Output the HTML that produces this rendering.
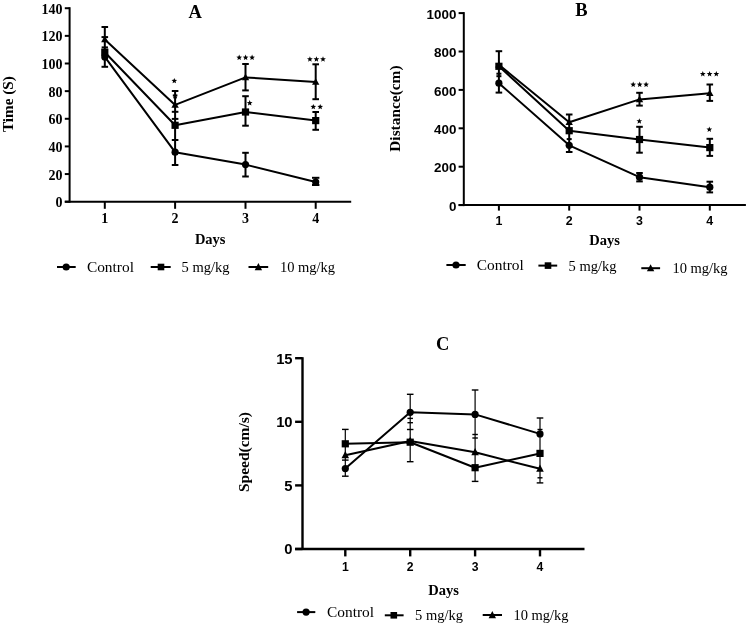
<!DOCTYPE html>
<html><head><meta charset="utf-8"><title>Figure</title>
<style>
html,body{margin:0;padding:0;background:#fff;}
body{width:748px;height:627px;overflow:hidden;}
svg{display:block;will-change:transform;}
</style></head>
<body>
<svg width="748" height="627" viewBox="0 0 748 627">
<rect x="0" y="0" width="748" height="627" fill="#fff"/>
<line x1="69.6" y1="7.22" x2="69.6" y2="202.7" stroke="#000" stroke-width="2"/>
<line x1="64.8" y1="201.7" x2="351.2" y2="201.7" stroke="#000" stroke-width="2"/>
<line x1="64.8" y1="201.7" x2="69.6" y2="201.7" stroke="#000" stroke-width="2"/>
<text x="62.4" y="207.3" font-family='"Liberation Serif", serif' font-weight="bold" font-size="14" text-anchor="end">0</text>
<line x1="64.8" y1="174.06" x2="69.6" y2="174.06" stroke="#000" stroke-width="2"/>
<text x="62.4" y="179.66" font-family='"Liberation Serif", serif' font-weight="bold" font-size="14" text-anchor="end">20</text>
<line x1="64.8" y1="146.42" x2="69.6" y2="146.42" stroke="#000" stroke-width="2"/>
<text x="62.4" y="152.02" font-family='"Liberation Serif", serif' font-weight="bold" font-size="14" text-anchor="end">40</text>
<line x1="64.8" y1="118.78" x2="69.6" y2="118.78" stroke="#000" stroke-width="2"/>
<text x="62.4" y="124.38" font-family='"Liberation Serif", serif' font-weight="bold" font-size="14" text-anchor="end">60</text>
<line x1="64.8" y1="91.14" x2="69.6" y2="91.14" stroke="#000" stroke-width="2"/>
<text x="62.4" y="96.74" font-family='"Liberation Serif", serif' font-weight="bold" font-size="14" text-anchor="end">80</text>
<line x1="64.8" y1="63.5" x2="69.6" y2="63.5" stroke="#000" stroke-width="2"/>
<text x="62.4" y="69.1" font-family='"Liberation Serif", serif' font-weight="bold" font-size="14" text-anchor="end">100</text>
<line x1="64.8" y1="35.86" x2="69.6" y2="35.86" stroke="#000" stroke-width="2"/>
<text x="62.4" y="41.46" font-family='"Liberation Serif", serif' font-weight="bold" font-size="14" text-anchor="end">120</text>
<line x1="64.8" y1="8.22" x2="69.6" y2="8.22" stroke="#000" stroke-width="2"/>
<text x="62.4" y="13.82" font-family='"Liberation Serif", serif' font-weight="bold" font-size="14" text-anchor="end">140</text>
<line x1="104.8" y1="201.7" x2="104.8" y2="208.8" stroke="#000" stroke-width="2"/>
<text x="104.8" y="222.6" font-family='"Liberation Serif", serif' font-weight="bold" font-size="14" text-anchor="middle">1</text>
<line x1="175.1" y1="201.7" x2="175.1" y2="208.8" stroke="#000" stroke-width="2"/>
<text x="175.1" y="222.6" font-family='"Liberation Serif", serif' font-weight="bold" font-size="14" text-anchor="middle">2</text>
<line x1="245.5" y1="201.7" x2="245.5" y2="208.8" stroke="#000" stroke-width="2"/>
<text x="245.5" y="222.6" font-family='"Liberation Serif", serif' font-weight="bold" font-size="14" text-anchor="middle">3</text>
<line x1="315.7" y1="201.7" x2="315.7" y2="208.8" stroke="#000" stroke-width="2"/>
<text x="315.7" y="222.6" font-family='"Liberation Serif", serif' font-weight="bold" font-size="14" text-anchor="middle">4</text>
<text x="195.1" y="17.6" font-family='"Liberation Serif", serif' font-weight="bold" font-size="18.5" text-anchor="middle">A</text>
<text x="13.3" y="104.1" font-family='"Liberation Serif", serif' font-weight="bold" font-size="15.2" text-anchor="middle" transform="rotate(-90 13.3 104.1)">Time (S)</text>
<text x="210.2" y="243.7" font-family='"Liberation Serif", serif' font-weight="bold" font-size="14.5" text-anchor="middle">Days</text>
<line x1="104.8" y1="27.0" x2="104.8" y2="66.8" stroke="#000" stroke-width="2"/>
<line x1="101.5" y1="27.0" x2="108.1" y2="27.0" stroke="#000" stroke-width="2"/>
<line x1="101.5" y1="37.1" x2="108.1" y2="37.1" stroke="#000" stroke-width="2"/>
<line x1="101.65" y1="47.4" x2="107.95" y2="47.4" stroke="#000" stroke-width="2"/>
<line x1="101.5" y1="66.8" x2="108.1" y2="66.8" stroke="#000" stroke-width="2"/>
<line x1="175.1" y1="91.0" x2="175.1" y2="165.0" stroke="#000" stroke-width="2"/>
<line x1="171.8" y1="91.0" x2="178.4" y2="91.0" stroke="#000" stroke-width="2"/>
<line x1="172.8" y1="95.4" x2="177.4" y2="95.4" stroke="#000" stroke-width="2"/>
<line x1="173.35" y1="97.4" x2="176.85" y2="97.4" stroke="#000" stroke-width="2"/>
<line x1="171.8" y1="111.8" x2="178.4" y2="111.8" stroke="#000" stroke-width="2"/>
<line x1="171.8" y1="118.9" x2="178.4" y2="118.9" stroke="#000" stroke-width="2"/>
<line x1="171.8" y1="140.0" x2="178.4" y2="140.0" stroke="#000" stroke-width="2"/>
<line x1="171.8" y1="165.0" x2="178.4" y2="165.0" stroke="#000" stroke-width="2"/>
<line x1="245.5" y1="64.0" x2="245.5" y2="90.4" stroke="#000" stroke-width="2"/>
<line x1="242.2" y1="64.0" x2="248.8" y2="64.0" stroke="#000" stroke-width="2"/>
<line x1="242.2" y1="90.4" x2="248.8" y2="90.4" stroke="#000" stroke-width="2"/>
<line x1="245.5" y1="96.2" x2="245.5" y2="125.7" stroke="#000" stroke-width="2"/>
<line x1="242.2" y1="96.2" x2="248.8" y2="96.2" stroke="#000" stroke-width="2"/>
<line x1="242.2" y1="125.7" x2="248.8" y2="125.7" stroke="#000" stroke-width="2"/>
<line x1="245.5" y1="152.8" x2="245.5" y2="176.5" stroke="#000" stroke-width="2"/>
<line x1="242.2" y1="152.8" x2="248.8" y2="152.8" stroke="#000" stroke-width="2"/>
<line x1="242.2" y1="176.5" x2="248.8" y2="176.5" stroke="#000" stroke-width="2"/>
<line x1="315.7" y1="64.3" x2="315.7" y2="99.2" stroke="#000" stroke-width="2"/>
<line x1="312.4" y1="64.3" x2="319.0" y2="64.3" stroke="#000" stroke-width="2"/>
<line x1="312.4" y1="99.2" x2="319.0" y2="99.2" stroke="#000" stroke-width="2"/>
<line x1="315.7" y1="112.0" x2="315.7" y2="129.8" stroke="#000" stroke-width="2"/>
<line x1="312.4" y1="112.0" x2="319.0" y2="112.0" stroke="#000" stroke-width="2"/>
<line x1="312.4" y1="129.8" x2="319.0" y2="129.8" stroke="#000" stroke-width="2"/>
<line x1="315.7" y1="177.8" x2="315.7" y2="185.0" stroke="#000" stroke-width="2"/>
<line x1="312.0" y1="177.8" x2="319.4" y2="177.8" stroke="#000" stroke-width="2"/>
<line x1="312.0" y1="185.0" x2="319.4" y2="185.0" stroke="#000" stroke-width="2"/>
<polyline points="104.8,39.6 175.1,104.9 245.5,77.4 315.7,82.0" fill="none" stroke="#000" stroke-width="2" stroke-linejoin="round"/>
<polyline points="104.8,52.2 175.1,125.3 245.5,112.0 315.7,120.6" fill="none" stroke="#000" stroke-width="2" stroke-linejoin="round"/>
<polyline points="104.8,56.9 175.1,152.2 245.5,164.6 315.7,182.0" fill="none" stroke="#000" stroke-width="2" stroke-linejoin="round"/>
<polygon points="104.8,35.82 108.5,42.34 101.1,42.34" fill="#000"/>
<polygon points="175.1,101.12 178.8,107.64 171.4,107.64" fill="#000"/>
<polygon points="245.5,73.62 249.2,80.14 241.8,80.14" fill="#000"/>
<polygon points="315.7,78.22 319.4,84.74 312.0,84.74" fill="#000"/>
<rect x="101.2" y="48.6" width="7.2" height="7.2" fill="#000"/>
<rect x="171.5" y="121.7" width="7.2" height="7.2" fill="#000"/>
<rect x="241.9" y="108.4" width="7.2" height="7.2" fill="#000"/>
<rect x="312.1" y="117.0" width="7.2" height="7.2" fill="#000"/>
<circle cx="104.8" cy="56.9" r="3.6" fill="#000"/>
<circle cx="175.1" cy="152.2" r="3.6" fill="#000"/>
<circle cx="245.5" cy="164.6" r="3.6" fill="#000"/>
<circle cx="315.7" cy="182.0" r="3.6" fill="#000"/>
<polygon points="174.30,77.90 175.06,79.85 177.15,79.97 175.54,81.30 176.06,83.33 174.30,82.20 172.54,83.33 173.06,81.30 171.45,79.97 173.54,79.85" fill="#000"/>
<polygon points="239.20,54.60 239.96,56.55 242.05,56.67 240.44,58.00 240.96,60.03 239.20,58.90 237.44,60.03 237.96,58.00 236.35,56.67 238.44,56.55" fill="#000"/>
<polygon points="245.60,54.60 246.36,56.55 248.45,56.67 246.84,58.00 247.36,60.03 245.60,58.90 243.84,60.03 244.36,58.00 242.75,56.67 244.84,56.55" fill="#000"/>
<polygon points="252.10,54.60 252.86,56.55 254.95,56.67 253.34,58.00 253.86,60.03 252.10,58.90 250.34,60.03 250.86,58.00 249.25,56.67 251.34,56.55" fill="#000"/>
<polygon points="249.70,100.10 250.46,102.05 252.55,102.17 250.94,103.50 251.46,105.53 249.70,104.40 247.94,105.53 248.46,103.50 246.85,102.17 248.94,102.05" fill="#000"/>
<polygon points="309.90,56.30 310.66,58.25 312.75,58.37 311.14,59.70 311.66,61.73 309.90,60.60 308.14,61.73 308.66,59.70 307.05,58.37 309.14,58.25" fill="#000"/>
<polygon points="316.40,56.30 317.16,58.25 319.25,58.37 317.64,59.70 318.16,61.73 316.40,60.60 314.64,61.73 315.16,59.70 313.55,58.37 315.64,58.25" fill="#000"/>
<polygon points="323.00,56.30 323.76,58.25 325.85,58.37 324.24,59.70 324.76,61.73 323.00,60.60 321.24,61.73 321.76,59.70 320.15,58.37 322.24,58.25" fill="#000"/>
<polygon points="313.30,103.90 314.06,105.85 316.15,105.97 314.54,107.30 315.06,109.33 313.30,108.20 311.54,109.33 312.06,107.30 310.45,105.97 312.54,105.85" fill="#000"/>
<polygon points="320.20,103.90 320.96,105.85 323.05,105.97 321.44,107.30 321.96,109.33 320.20,108.20 318.44,109.33 318.96,107.30 317.35,105.97 319.44,105.85" fill="#000"/>
<line x1="57.0" y1="267.0" x2="75.7" y2="267.0" stroke="#000" stroke-width="2"/>
<circle cx="66.2" cy="267.0" r="3.6" fill="#000"/>
<text x="86.9" y="271.6" font-family='"Liberation Serif", serif' font-weight="normal" font-size="15.4" text-anchor="start">Control</text>
<line x1="150.7" y1="267.0" x2="170.7" y2="267.0" stroke="#000" stroke-width="2"/>
<rect x="157.7" y="263.7" width="6.6" height="6.6" fill="#000"/>
<text x="181.5" y="271.6" font-family='"Liberation Serif", serif' font-weight="normal" font-size="14.5" text-anchor="start">5 mg/kg</text>
<line x1="248.5" y1="267.0" x2="268.2" y2="267.0" stroke="#000" stroke-width="2"/>
<polygon points="258.4,263.12 262.1,270.15 254.7,270.15" fill="#000"/>
<text x="279.9" y="271.6" font-family='"Liberation Serif", serif' font-weight="normal" font-size="14.5" text-anchor="start">10 mg/kg</text>
<line x1="463.8" y1="12.1" x2="463.8" y2="206.1" stroke="#000" stroke-width="2"/>
<line x1="458.6" y1="205.1" x2="745.9" y2="205.1" stroke="#000" stroke-width="2"/>
<line x1="458.6" y1="205.1" x2="463.8" y2="205.1" stroke="#000" stroke-width="2"/>
<text x="456.4" y="210.7" font-family='"Liberation Sans", sans-serif' font-weight="bold" font-size="13.4" text-anchor="end">0</text>
<line x1="458.6" y1="166.7" x2="463.8" y2="166.7" stroke="#000" stroke-width="2"/>
<text x="456.4" y="172.3" font-family='"Liberation Sans", sans-serif' font-weight="bold" font-size="13.4" text-anchor="end">200</text>
<line x1="458.6" y1="128.3" x2="463.8" y2="128.3" stroke="#000" stroke-width="2"/>
<text x="456.4" y="133.9" font-family='"Liberation Sans", sans-serif' font-weight="bold" font-size="13.4" text-anchor="end">400</text>
<line x1="458.6" y1="89.9" x2="463.8" y2="89.9" stroke="#000" stroke-width="2"/>
<text x="456.4" y="95.5" font-family='"Liberation Sans", sans-serif' font-weight="bold" font-size="13.4" text-anchor="end">600</text>
<line x1="458.6" y1="51.5" x2="463.8" y2="51.5" stroke="#000" stroke-width="2"/>
<text x="456.4" y="57.1" font-family='"Liberation Sans", sans-serif' font-weight="bold" font-size="13.4" text-anchor="end">800</text>
<line x1="458.6" y1="13.1" x2="463.8" y2="13.1" stroke="#000" stroke-width="2"/>
<text x="456.4" y="18.7" font-family='"Liberation Sans", sans-serif' font-weight="bold" font-size="13.4" text-anchor="end">1000</text>
<line x1="498.9" y1="205.1" x2="498.9" y2="210.6" stroke="#000" stroke-width="2"/>
<text x="498.9" y="224.6" font-family='"Liberation Sans", sans-serif' font-weight="bold" font-size="12.4" text-anchor="middle">1</text>
<line x1="569.2" y1="205.1" x2="569.2" y2="210.6" stroke="#000" stroke-width="2"/>
<text x="569.2" y="224.6" font-family='"Liberation Sans", sans-serif' font-weight="bold" font-size="12.4" text-anchor="middle">2</text>
<line x1="639.5" y1="205.1" x2="639.5" y2="210.6" stroke="#000" stroke-width="2"/>
<text x="639.5" y="224.6" font-family='"Liberation Sans", sans-serif' font-weight="bold" font-size="12.4" text-anchor="middle">3</text>
<line x1="709.8" y1="205.1" x2="709.8" y2="210.6" stroke="#000" stroke-width="2"/>
<text x="709.8" y="224.6" font-family='"Liberation Sans", sans-serif' font-weight="bold" font-size="12.4" text-anchor="middle">4</text>
<text x="581.4" y="16.2" font-family='"Liberation Serif", serif' font-weight="bold" font-size="18.5" text-anchor="middle">B</text>
<text x="400.4" y="108.6" font-family='"Liberation Serif", serif' font-weight="bold" font-size="15.4" text-anchor="middle" transform="rotate(-90 400.4 108.6)">Distance(cm)</text>
<text x="604.5" y="244.6" font-family='"Liberation Serif", serif' font-weight="bold" font-size="14.5" text-anchor="middle">Days</text>
<line x1="498.9" y1="51.2" x2="498.9" y2="92.6" stroke="#000" stroke-width="2"/>
<line x1="495.6" y1="51.2" x2="502.2" y2="51.2" stroke="#000" stroke-width="2"/>
<line x1="496.4" y1="73.7" x2="501.4" y2="73.7" stroke="#000" stroke-width="2"/>
<line x1="496.4" y1="76.2" x2="501.4" y2="76.2" stroke="#000" stroke-width="2"/>
<line x1="495.6" y1="92.6" x2="502.2" y2="92.6" stroke="#000" stroke-width="2"/>
<line x1="569.2" y1="114.5" x2="569.2" y2="152.0" stroke="#000" stroke-width="2"/>
<line x1="565.9" y1="114.5" x2="572.5" y2="114.5" stroke="#000" stroke-width="2"/>
<line x1="566.7" y1="139.1" x2="571.7" y2="139.1" stroke="#000" stroke-width="2"/>
<line x1="565.9" y1="152.0" x2="572.5" y2="152.0" stroke="#000" stroke-width="2"/>
<line x1="639.5" y1="92.8" x2="639.5" y2="105.6" stroke="#000" stroke-width="2"/>
<line x1="636.2" y1="92.8" x2="642.8" y2="92.8" stroke="#000" stroke-width="2"/>
<line x1="636.2" y1="105.6" x2="642.8" y2="105.6" stroke="#000" stroke-width="2"/>
<line x1="639.5" y1="126.8" x2="639.5" y2="152.7" stroke="#000" stroke-width="2"/>
<line x1="636.2" y1="126.8" x2="642.8" y2="126.8" stroke="#000" stroke-width="2"/>
<line x1="636.2" y1="152.7" x2="642.8" y2="152.7" stroke="#000" stroke-width="2"/>
<line x1="639.5" y1="173.0" x2="639.5" y2="181.4" stroke="#000" stroke-width="2"/>
<line x1="636.2" y1="173.0" x2="642.8" y2="173.0" stroke="#000" stroke-width="2"/>
<line x1="636.2" y1="181.4" x2="642.8" y2="181.4" stroke="#000" stroke-width="2"/>
<line x1="709.8" y1="84.5" x2="709.8" y2="100.9" stroke="#000" stroke-width="2"/>
<line x1="706.5" y1="84.5" x2="713.1" y2="84.5" stroke="#000" stroke-width="2"/>
<line x1="706.5" y1="100.9" x2="713.1" y2="100.9" stroke="#000" stroke-width="2"/>
<line x1="709.8" y1="138.8" x2="709.8" y2="155.9" stroke="#000" stroke-width="2"/>
<line x1="706.5" y1="138.8" x2="713.1" y2="138.8" stroke="#000" stroke-width="2"/>
<line x1="706.5" y1="155.9" x2="713.1" y2="155.9" stroke="#000" stroke-width="2"/>
<line x1="709.8" y1="181.7" x2="709.8" y2="192.4" stroke="#000" stroke-width="2"/>
<line x1="706.5" y1="181.7" x2="713.1" y2="181.7" stroke="#000" stroke-width="2"/>
<line x1="706.5" y1="192.4" x2="713.1" y2="192.4" stroke="#000" stroke-width="2"/>
<polyline points="498.9,64.8 569.2,122.3 639.5,99.4 709.8,93.2" fill="none" stroke="#000" stroke-width="2" stroke-linejoin="round"/>
<polyline points="498.9,66.3 569.2,130.7 639.5,139.5 709.8,147.6" fill="none" stroke="#000" stroke-width="2" stroke-linejoin="round"/>
<polyline points="498.9,83.2 569.2,145.3 639.5,177.2 709.8,187.2" fill="none" stroke="#000" stroke-width="2" stroke-linejoin="round"/>
<polygon points="498.9,61.02 502.6,67.54 495.2,67.54" fill="#000"/>
<polygon points="569.2,118.52 572.9,125.04 565.5,125.04" fill="#000"/>
<polygon points="639.5,95.62 643.2,102.14 635.8,102.14" fill="#000"/>
<polygon points="709.8,89.42 713.5,95.94 706.1,95.94" fill="#000"/>
<rect x="495.3" y="62.7" width="7.2" height="7.2" fill="#000"/>
<rect x="565.6" y="127.1" width="7.2" height="7.2" fill="#000"/>
<rect x="635.9" y="135.9" width="7.2" height="7.2" fill="#000"/>
<rect x="706.2" y="144.0" width="7.2" height="7.2" fill="#000"/>
<circle cx="498.9" cy="83.2" r="3.6" fill="#000"/>
<circle cx="569.2" cy="145.3" r="3.6" fill="#000"/>
<circle cx="639.5" cy="177.2" r="3.6" fill="#000"/>
<circle cx="709.8" cy="187.2" r="3.6" fill="#000"/>
<polygon points="633.20,81.60 633.96,83.55 636.05,83.67 634.44,85.00 634.96,87.03 633.20,85.90 631.44,87.03 631.96,85.00 630.35,83.67 632.44,83.55" fill="#000"/>
<polygon points="639.70,81.60 640.46,83.55 642.55,83.67 640.94,85.00 641.46,87.03 639.70,85.90 637.94,87.03 638.46,85.00 636.85,83.67 638.94,83.55" fill="#000"/>
<polygon points="646.10,81.60 646.86,83.55 648.95,83.67 647.34,85.00 647.86,87.03 646.10,85.90 644.34,87.03 644.86,85.00 643.25,83.67 645.34,83.55" fill="#000"/>
<polygon points="639.30,118.20 640.06,120.15 642.15,120.27 640.54,121.60 641.06,123.63 639.30,122.50 637.54,123.63 638.06,121.60 636.45,120.27 638.54,120.15" fill="#000"/>
<polygon points="702.80,71.00 703.56,72.95 705.65,73.07 704.04,74.40 704.56,76.43 702.80,75.30 701.04,76.43 701.56,74.40 699.95,73.07 702.04,72.95" fill="#000"/>
<polygon points="709.60,71.00 710.36,72.95 712.45,73.07 710.84,74.40 711.36,76.43 709.60,75.30 707.84,76.43 708.36,74.40 706.75,73.07 708.84,72.95" fill="#000"/>
<polygon points="716.30,71.00 717.06,72.95 719.15,73.07 717.54,74.40 718.06,76.43 716.30,75.30 714.54,76.43 715.06,74.40 713.45,73.07 715.54,72.95" fill="#000"/>
<polygon points="709.30,126.50 710.06,128.45 712.15,128.57 710.54,129.90 711.06,131.93 709.30,130.80 707.54,131.93 708.06,129.90 706.45,128.57 708.54,128.45" fill="#000"/>
<line x1="446.4" y1="265.0" x2="465.7" y2="265.0" stroke="#000" stroke-width="2"/>
<circle cx="456.0" cy="265.0" r="3.6" fill="#000"/>
<text x="476.8" y="269.7" font-family='"Liberation Serif", serif' font-weight="normal" font-size="15.4" text-anchor="start">Control</text>
<line x1="538.4" y1="265.6" x2="557.2" y2="265.6" stroke="#000" stroke-width="2"/>
<rect x="544.7" y="262.3" width="6.6" height="6.6" fill="#000"/>
<text x="568.5" y="270.7" font-family='"Liberation Serif", serif' font-weight="normal" font-size="14.5" text-anchor="start">5 mg/kg</text>
<line x1="641.3" y1="268.2" x2="660.1" y2="268.2" stroke="#000" stroke-width="2"/>
<polygon points="650.6,264.32 654.3,271.35 646.9,271.35" fill="#000"/>
<text x="672.4" y="272.6" font-family='"Liberation Serif", serif' font-weight="normal" font-size="14.5" text-anchor="start">10 mg/kg</text>
<line x1="302.5" y1="357.2" x2="302.5" y2="550.0" stroke="#000" stroke-width="2.4"/>
<line x1="295.1" y1="549.0" x2="584.5" y2="549.0" stroke="#000" stroke-width="2.4"/>
<line x1="295.1" y1="549.0" x2="302.5" y2="549.0" stroke="#000" stroke-width="2.4"/>
<text x="292.6" y="554.4" font-family='"Liberation Sans", sans-serif' font-weight="bold" font-size="14.8" text-anchor="end">0</text>
<line x1="295.1" y1="485.4" x2="302.5" y2="485.4" stroke="#000" stroke-width="2.4"/>
<text x="292.6" y="490.8" font-family='"Liberation Sans", sans-serif' font-weight="bold" font-size="14.8" text-anchor="end">5</text>
<line x1="295.1" y1="421.8" x2="302.5" y2="421.8" stroke="#000" stroke-width="2.4"/>
<text x="292.6" y="427.2" font-family='"Liberation Sans", sans-serif' font-weight="bold" font-size="14.8" text-anchor="end">10</text>
<line x1="295.1" y1="358.2" x2="302.5" y2="358.2" stroke="#000" stroke-width="2.4"/>
<text x="292.6" y="363.6" font-family='"Liberation Sans", sans-serif' font-weight="bold" font-size="14.8" text-anchor="end">15</text>
<line x1="345.3" y1="549.0" x2="345.3" y2="556.4" stroke="#000" stroke-width="2.4"/>
<text x="345.3" y="570.8" font-family='"Liberation Sans", sans-serif' font-weight="bold" font-size="12.2" text-anchor="middle">1</text>
<line x1="410.2" y1="549.0" x2="410.2" y2="556.4" stroke="#000" stroke-width="2.4"/>
<text x="410.2" y="570.8" font-family='"Liberation Sans", sans-serif' font-weight="bold" font-size="12.2" text-anchor="middle">2</text>
<line x1="475.1" y1="549.0" x2="475.1" y2="556.4" stroke="#000" stroke-width="2.4"/>
<text x="475.1" y="570.8" font-family='"Liberation Sans", sans-serif' font-weight="bold" font-size="12.2" text-anchor="middle">3</text>
<line x1="540.0" y1="549.0" x2="540.0" y2="556.4" stroke="#000" stroke-width="2.4"/>
<text x="540.0" y="570.8" font-family='"Liberation Sans", sans-serif' font-weight="bold" font-size="12.2" text-anchor="middle">4</text>
<text x="442.6" y="349.5" font-family='"Liberation Serif", serif' font-weight="bold" font-size="18.5" text-anchor="middle">C</text>
<text x="249.3" y="452.0" font-family='"Liberation Serif", serif' font-weight="bold" font-size="15.5" text-anchor="middle" transform="rotate(-90 249.3 452.0)">Speed(cm/s)</text>
<text x="443.5" y="594.5" font-family='"Liberation Serif", serif' font-weight="bold" font-size="14.5" text-anchor="middle">Days</text>
<line x1="345.3" y1="429.4" x2="345.3" y2="476.2" stroke="#000" stroke-width="1.2"/>
<line x1="342.0" y1="429.4" x2="348.6" y2="429.4" stroke="#000" stroke-width="1.4"/>
<line x1="342.0" y1="460.1" x2="348.6" y2="460.1" stroke="#000" stroke-width="1.4"/>
<line x1="342.0" y1="476.2" x2="348.6" y2="476.2" stroke="#000" stroke-width="1.4"/>
<line x1="410.2" y1="394.3" x2="410.2" y2="461.7" stroke="#000" stroke-width="1.2"/>
<line x1="406.9" y1="394.3" x2="413.5" y2="394.3" stroke="#000" stroke-width="1.4"/>
<line x1="407.45" y1="418.4" x2="412.95" y2="418.4" stroke="#000" stroke-width="1.4"/>
<line x1="407.45" y1="422.7" x2="412.95" y2="422.7" stroke="#000" stroke-width="1.4"/>
<line x1="406.95" y1="429.5" x2="413.45" y2="429.5" stroke="#000" stroke-width="1.4"/>
<line x1="406.9" y1="461.7" x2="413.5" y2="461.7" stroke="#000" stroke-width="1.4"/>
<line x1="475.1" y1="390.0" x2="475.1" y2="481.4" stroke="#000" stroke-width="1.2"/>
<line x1="471.8" y1="390.0" x2="478.4" y2="390.0" stroke="#000" stroke-width="1.4"/>
<line x1="472.35" y1="434.5" x2="477.85" y2="434.5" stroke="#000" stroke-width="1.4"/>
<line x1="472.35" y1="438.0" x2="477.85" y2="438.0" stroke="#000" stroke-width="1.4"/>
<line x1="471.8" y1="481.4" x2="478.4" y2="481.4" stroke="#000" stroke-width="1.4"/>
<line x1="540.0" y1="418.0" x2="540.0" y2="482.9" stroke="#000" stroke-width="1.2"/>
<line x1="536.7" y1="418.0" x2="543.3" y2="418.0" stroke="#000" stroke-width="1.4"/>
<line x1="537.5" y1="429.5" x2="542.5" y2="429.5" stroke="#000" stroke-width="1.4"/>
<line x1="537.5" y1="477.8" x2="542.5" y2="477.8" stroke="#000" stroke-width="1.4"/>
<line x1="536.7" y1="482.9" x2="543.3" y2="482.9" stroke="#000" stroke-width="1.4"/>
<polyline points="345.3,455.2 410.2,441.0 475.1,452.3 540.0,468.8" fill="none" stroke="#000" stroke-width="2" stroke-linejoin="round"/>
<polyline points="345.3,443.8 410.2,442.2 475.1,467.7 540.0,453.4" fill="none" stroke="#000" stroke-width="2" stroke-linejoin="round"/>
<polyline points="345.3,468.6 410.2,412.3 475.1,414.4 540.0,433.9" fill="none" stroke="#000" stroke-width="2" stroke-linejoin="round"/>
<polygon points="345.3,451.01 349.1,458.23 341.5,458.23" fill="#000"/>
<polygon points="410.2,436.81 414.0,444.03 406.4,444.03" fill="#000"/>
<polygon points="475.1,448.11 478.9,455.33 471.3,455.33" fill="#000"/>
<polygon points="540.0,464.61 543.8,471.83 536.2,471.83" fill="#000"/>
<rect x="341.7" y="440.2" width="7.2" height="7.2" fill="#000"/>
<rect x="406.6" y="438.6" width="7.2" height="7.2" fill="#000"/>
<rect x="471.5" y="464.1" width="7.2" height="7.2" fill="#000"/>
<rect x="536.4" y="449.8" width="7.2" height="7.2" fill="#000"/>
<circle cx="345.3" cy="468.6" r="3.6" fill="#000"/>
<circle cx="410.2" cy="412.3" r="3.6" fill="#000"/>
<circle cx="475.1" cy="414.4" r="3.6" fill="#000"/>
<circle cx="540.0" cy="433.9" r="3.6" fill="#000"/>
<line x1="297.1" y1="612.1" x2="315.3" y2="612.1" stroke="#000" stroke-width="2"/>
<circle cx="306.1" cy="612.1" r="3.6" fill="#000"/>
<text x="327.0" y="617.0" font-family='"Liberation Serif", serif' font-weight="normal" font-size="15.4" text-anchor="start">Control</text>
<line x1="384.8" y1="615.3" x2="403.6" y2="615.3" stroke="#000" stroke-width="2"/>
<rect x="390.5" y="612.0" width="6.6" height="6.6" fill="#000"/>
<text x="415.0" y="619.5" font-family='"Liberation Serif", serif' font-weight="normal" font-size="14.5" text-anchor="start">5 mg/kg</text>
<line x1="482.7" y1="615.0" x2="502.0" y2="615.0" stroke="#000" stroke-width="2"/>
<polygon points="492.3,611.12 496.0,618.15 488.6,618.15" fill="#000"/>
<text x="513.4" y="620.0" font-family='"Liberation Serif", serif' font-weight="normal" font-size="14.5" text-anchor="start">10 mg/kg</text>
</svg>
</body></html>
